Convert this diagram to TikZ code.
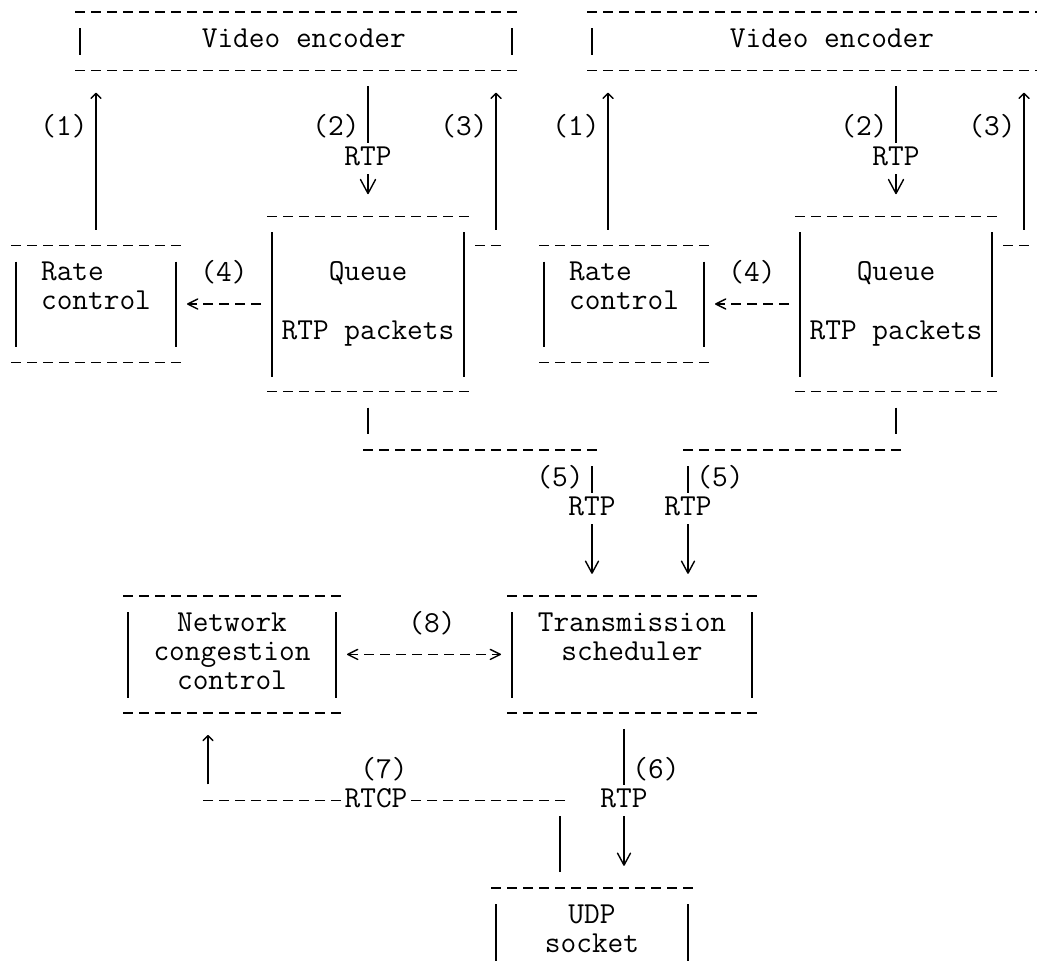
\documentclass[tikz,border=0pt]{standalone}
\usepackage{fontspec}
\usetikzlibrary{arrows.meta,calc}

\def \asciiFont {\ttfamily\fontsize{15.24}{14.6}\selectfont}

\tikzset{
  tipUp/.tip={Straight Barb[length=2.5pt,width=5pt,round]},
  tipSmallV/.tip={Straight Barb[length=6pt,width=6.5pt,round]},
  tipBigV/.tip={Straight Barb[length=7pt,width=7.5pt,round]},
  tipSide/.tip={Straight Barb[length=5pt,width=5pt,round]},
  asciibox/.style={inner sep=0pt, outer sep=0pt, font=\asciiFont},
  lbl/.style={inner sep=0pt, text height=8pt, text depth=1pt, font=\asciiFont},
  onwire/.style={lbl, fill=white, inner ysep=3.25pt},
  dashrule/.style={line width=0.7pt, dash pattern=on 5pt off 3pt},
  barrule/.style={line width=0.7pt},
  feed/.style={barrule, shorten <=8pt, shorten >=8pt},
  feedtip/.style={barrule, shorten <=8pt, shorten >=11.1pt}
}

\begin{document}
\begin{tikzpicture}[x=0.5pt,y=-0.5pt]
  \path[use as bounding box, fill=white] (0,0) rectangle (1037,976);
  \clip (0,0) rectangle (1037,974);

  \node[asciibox, minimum width=224pt, minimum height=29.2pt] (enc1) at (296,41.2) {\strut~Video encoder};
  \node[asciibox, minimum width=248pt, minimum height=29.2pt] (enc2) at (832,41.2) {\strut Video encoder};
  \node[asciibox, minimum width=88pt, minimum height=58.4pt, align=left] (rate1) at (96,304) {\strut Rate\\\strut control\\\strut};
  \node[asciibox, minimum width=104pt, minimum height=87.6pt, align=center] (queue1) at (368,304) {\strut Queue\\\strut\\\strut RTP packets};
  \node[asciibox, minimum width=88pt, minimum height=58.4pt, align=left] (rate2) at (624,304) {\strut Rate\\\strut control\\\strut};
  \node[asciibox, minimum width=104pt, minimum height=87.6pt, align=center] (queue2) at (896,304) {\strut Queue\\\strut\\\strut RTP packets};
  \node[asciibox, minimum width=112pt, minimum height=58.4pt, align=center] (ncc) at (232,654.4) {\strut Network\\\strut congestion\\\strut control};
  \node[asciibox, minimum width=128pt, minimum height=58.4pt, align=center] (trans) at (632,654.4) {\strut Transmission\\\strut scheduler\\\strut};
  \node[asciibox, minimum width=104pt, minimum height=43.8pt, align=center] (udp) at (592,931.8) {\strut UDP\\\strut socket};

  \foreach \b in {enc1,enc2,rate1,queue1,rate2,queue2,ncc,trans,udp} {
    \draw[dashrule] ($(\b.north west)+(3,0)$) -- ($(\b.north east)+(-3,0)$);
    \draw[dashrule] ($(\b.south west)+(3,0)$) -- ($(\b.south east)+(-3,0)$);
    \draw[barrule] ($(\b.north west)+(8,16)$) -- ($(\b.south west)+(8,-15)$);
    \draw[barrule] ($(\b.north east)+(-8,16)$) -- ($(\b.south east)+(-8,-15)$);
  }

  \node[lbl] (n1a) at (64,128.8) {(1)};
  \node[lbl] (n2a) at (336,128.8) {(2)};
  \node[lbl] (n3a) at (464,128.8) {(3)};
  \node[lbl] (n1b) at (576,128.8) {(1)};
  \node[lbl] (n2b) at (864,128.8) {(2)};
  \node[lbl] (n3b) at (992,128.8) {(3)};
  \node[lbl] (n4a) at (224,274.8) {(4)};
  \node[lbl] (n4b) at (752,274.8) {(4)};
  \node[lbl] (n5a) at (560,479.2) {(5)};
  \node[lbl] (n5b) at (720,479.2) {(5)};
  \node[lbl] (n8) at (432,625.2) {(8)};
  \node[lbl] (n7) at (384,771.2) {(7)};
  \node[lbl] (n6) at (656,771.2) {(6)};

  \coordinate (k1b) at (608,0);
  \coordinate (c3a) at (496,245.6);
  \coordinate (c3b) at (1024,245.6);
  \coordinate (c5a) at (368,450);
  \coordinate (c5b) at (592,450);
  \coordinate (c5c) at (896,450);
  \coordinate (c5d) at (688,450);
  \coordinate (k6) at (624,0);
  \coordinate (c7a) at (560,800.4);
  \coordinate (c7b) at (208,800.4);

  \draw[feedtip,-{tipUp}] (rate1.north) -- (enc1.south -| rate1.north);
  \draw[feedtip,-{tipUp}] (rate2.north -| k1b) -- (enc2.south -| k1b);

  \draw[feedtip,-{tipBigV}] (enc1.south -| queue1.north) -- node[onwire,pos=0.6] (rtp2a) {RTP} (queue1.north);
  \draw[feedtip,-{tipBigV}] (enc2.south -| queue2.north) -- node[onwire,pos=0.6] (rtp2b) {RTP} (queue2.north);

  \draw[dashrule, shorten <=1.5pt, shorten >=-2.5pt] (queue1.east |- c3a) -- (c3a);
  \draw[feedtip,-{tipUp}] (c3a) -- (enc1.south -| c3a);
  \draw[dashrule, shorten <=1.5pt, shorten >=-2.5pt] (queue2.east |- c3b) -- (c3b);
  \draw[feedtip,-{tipUp}] (c3b) -- (enc2.south -| c3b);

  \draw[dashrule, shorten <=1.5pt, shorten >=1.5pt, -{tipSide}] (queue1.west) -- (rate1.east);
  \draw[dashrule, shorten <=1.5pt, shorten >=1.5pt, -{tipSide}] (queue2.west) -- (rate2.east);

  \draw[feed] (queue1.south) -- (c5a);
  \draw[dashrule, shorten <=-2.5pt, shorten >=-2.5pt] (c5a) -- (c5b);
  \draw[feedtip,-{tipSmallV}] (c5b) -- node[onwire,pos=0.4] (rtp5a) {RTP} (trans.north -| c5b);
  \draw[feed] (queue2.south) -- (c5c);
  \draw[dashrule, shorten <=-2.5pt, shorten >=-2.5pt] (c5c) -- (c5d);
  \draw[feedtip,-{tipSmallV}] (c5d) -- node[onwire,pos=0.4] (rtp5b) {RTP} (trans.north -| c5d);

  \draw[feedtip,-{tipSmallV}] (trans.south -| k6) -- node[onwire,pos=0.5] (rtp6) {RTP} (udp.north -| k6);

  \draw[feed] (udp.north -| c7a) -- (c7a);
  \draw[dashrule, shorten <=-2.5pt, shorten >=-2.5pt] (c7a) -- node[onwire,pos=0.5227] (rtcp) {RTCP} (c7b);
  \draw[feedtip,-{tipUp}] (c7b) -- (ncc.south -| c7b);

  \draw[dashrule, shorten <=1.5pt, shorten >=1.5pt, {tipSide}-{tipSide}] (ncc.east) -- (trans.west);
\end{tikzpicture}
\end{document}
